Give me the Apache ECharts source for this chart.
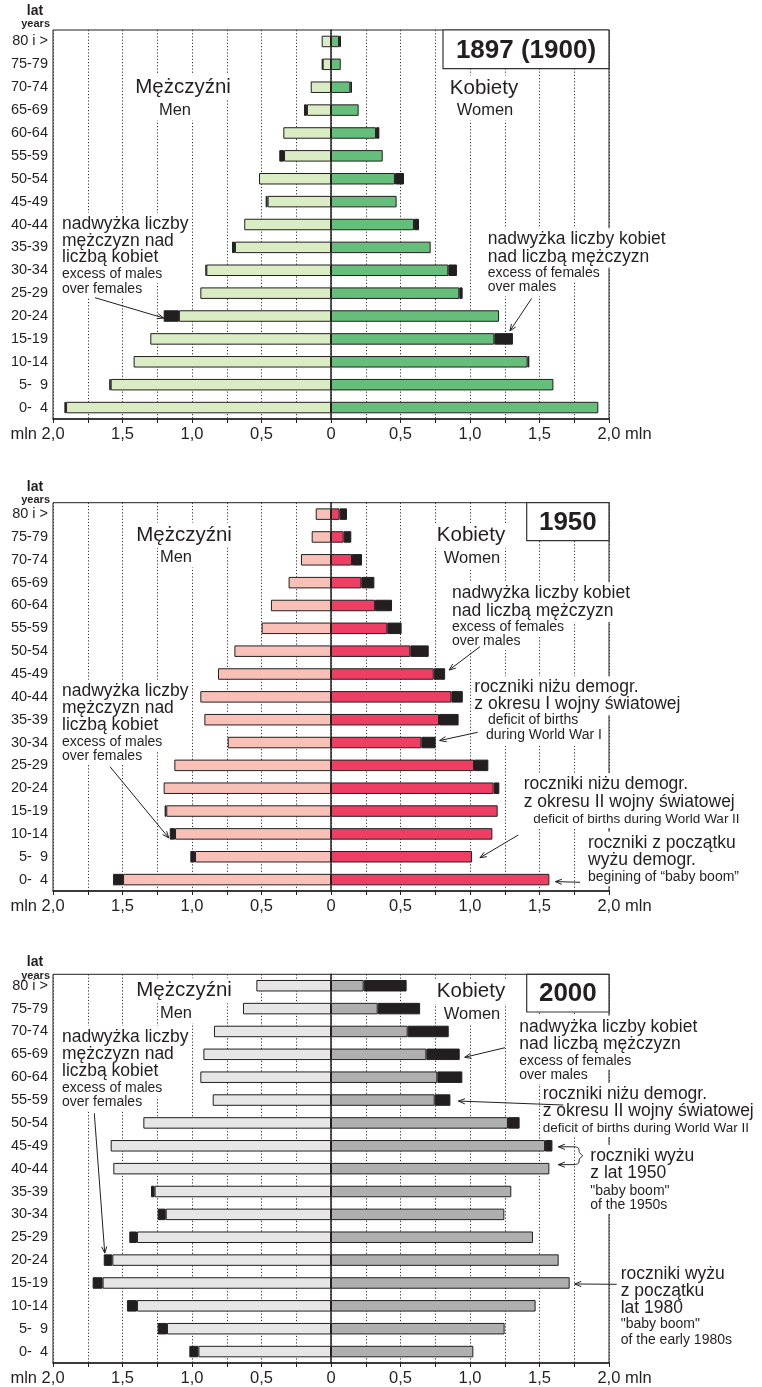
<!DOCTYPE html>
<html><head><meta charset="utf-8">
<script src="https://cdn.jsdelivr.net/npm/echarts@6/dist/echarts.min.js"></script>
<style>html,body{margin:0;padding:0;background:#fff}#c{width:762px;height:1387px}</style>
</head><body><div id="c"></div><script>
// ---------------- DATA (age groups listed from youngest (bottom) to oldest (top)) ----------------
const ageGroups = ['0-  4','5-  9','10-14','15-19','20-24','25-29','30-34','35-39','40-44','45-49','50-54','55-59','60-64','65-69','70-74','75-79','80 i >'];
const tickValues = [-2,-1.5,-1,-0.5,0,0.5,1,1.5,2];
const tickLabels = ['mln 2,0','1,5','1,0','0,5','0','0,5','1,0','1,5','2,0 mln'];
const years = ['1897 (1900)','1950','2000'];

// 1897 (1900)  [mln]
const men1897        = [1.906,1.585,1.420,1.300,1.094,0.940,0.897,0.691,0.624,0.456,0.518,0.338,0.343,0.173,0.146,0.060,0.067];
const menExcess1897  = [0.012,0.010,0,0,0.110,0,0.005,0.021,0,0.014,0,0.034,0,0.021,0,0.005,0];
const women1897      = [1.923,1.600,1.415,1.175,1.209,0.923,0.844,0.717,0.597,0.472,0.460,0.372,0.324,0.199,0.139,0.070,0.058];
const womenExcess1897= [0,0,0.012,0.134,0,0.024,0.062,0,0.036,0,0.065,0,0.024,0,0.012,0,0.014];

// 1950
const men1950        = [1.496,0.978,1.122,1.185,1.204,1.127,0.743,0.911,0.940,0.813,0.695,0.499,0.432,0.305,0.216,0.139,0.110];
const menExcess1950  = [0.072,0.034,0.038,0.012,0,0,0,0,0,0,0,0,0,0,0,0,0];
const women1950      = [1.571,1.014,1.161,1.199,1.170,1.029,0.650,0.777,0.866,0.739,0.571,0.405,0.317,0.218,0.151,0.091,0.062];
const womenExcess1950= [0,0,0,0,0.041,0.103,0.103,0.141,0.082,0.082,0.132,0.103,0.122,0.094,0.072,0.055,0.053];

// 2000
const men2000        = [0.954,1.180,1.396,1.643,1.573,1.396,1.189,1.269,1.566,1.585,1.350,0.851,0.940,0.918,0.842,0.633,0.537];
const menExcess2000  = [0.065,0.067,0.072,0.072,0.062,0.055,0.058,0.026,0,0,0,0,0,0,0,0,0];
const women2000      = [1.024,1.249,1.472,1.717,1.638,1.453,1.247,1.297,1.571,1.540,1.273,0.746,0.765,0.686,0.552,0.336,0.235];
const womenExcess2000= [0,0,0,0,0,0,0,0,0,0.053,0.084,0.113,0.180,0.240,0.295,0.305,0.309];

// ---------------- STYLE ----------------
const INK = '#231f20';
const FONT = '"Liberation Sans", Arial, Helvetica, sans-serif';
const panels = [
  {men: men1897, mx: menExcess1897, women: women1897, fx: womenExcess1897, cM:'#d9ecc4', cF:'#66be7b', top:30,    height:389},
  {men: men1950, mx: menExcess1950, women: women1950, fx: womenExcess1950, cM:'#f9c0b8', cF:'#ee3e64', top:502.7, height:388.3},
  {men: men2000, mx: menExcess2000, women: women2000, fx: womenExcess2000, cM:'#e6e6e6', cF:'#afafaf', top:974.3, height:389}
];

const grids = [], xAxes = [], yAxes = [], series = [];
panels.forEach((p, i) => {
  grids.push({left:53, width:556, top:p.top, height:p.height, show:true, borderColor:INK, borderWidth:1, backgroundColor:'transparent'});
  xAxes.push({
    gridIndex:i, type:'value', min:-2, max:2, interval:0.25,
    axisLine:{show:true, onZero:false, lineStyle:{color:INK, width:1.6}},
    axisTick:{show:true, length:4, lineStyle:{color:INK, width:1}},
    splitLine:{show:true, lineStyle:{color:'#333', width:1, type:[1.2,2]}},
    axisLabel:{
      showMinLabel:true, showMaxLabel:true, hideOverlap:false, margin:7,
      formatter: v => {
        const k = tickValues.findIndex(t => Math.abs(t - v) < 1e-6);
        if (k < 0) return '';
        if (k === 0) return '{a|' + tickLabels[k] + '}{s| }';
        if (k === tickValues.length - 1) return '{s| }{a|' + tickLabels[k] + '}';
        return '{a|' + tickLabels[k] + '}';
      },
      rich:{a:{fontSize:16.5, color:INK, fontFamily:FONT}, s:{width:31, fontSize:16}}
    }
  });
  yAxes.push({
    gridIndex:i, type:'category', data:ageGroups, boundaryGap:true,
    axisLine:{show:true, lineStyle:{color:INK, width:1.5}},
    axisTick:{show:false}, splitLine:{show:false},
    axisLabel:{fontSize:14.5, color:INK, fontFamily:FONT, margin:5}
  });
  const base = {type:'bar', xAxisIndex:i, yAxisIndex:i, stack:'pyr'+i, barWidth:11.5, animation:false, silent:true};
  const bs = {borderColor:INK, borderWidth:1};
  const nz = v => v > 0 ? v : '-';
  series.push({...base, name:'men'+i, data:p.men.map(v => -v), itemStyle:{...bs, color:p.cM}});
  series.push({...base, name:'menEx'+i, data:p.mx.map(v => v > 0 ? -v : '-'), itemStyle:{...bs, color:INK}});
  series.push({...base, name:'women'+i, data:p.women.map(nz), itemStyle:{...bs, color:p.cF}});
  series.push({...base, name:'womenEx'+i, data:p.fx.map(nz), itemStyle:{...bs, color:INK}});
});

const chart = echarts.init(document.getElementById('c'), null, {renderer:'canvas'});
chart.setOption({
  backgroundColor:'#fff', animation:false,
  grid:grids, xAxis:xAxes, yAxis:yAxes, series:series
});

// ---------------- ANNOTATIONS ----------------
const G = [];
function txt(x, y, t, size, opt) {
  opt = opt || {};
  const st = {
    text:t, x:x, y:y, fill:INK, align:opt.align || 'left', verticalAlign:'middle',
    fontSize:size, fontFamily:FONT, fontWeight:opt.bold ? 'bold' : 'normal', padding:[2,2]
  };
  if (!opt.nobg) {
    // white backing layer (hides grid lines), drawn under all texts
    G.push({type:'text', z:59, style:Object.assign({}, st, {fill:'#fff', backgroundColor:'#fff'})});
  }
  G.push({type:'text', z:62, style:st});
}
function block(x, lines) { lines.forEach(l => txt(l[2] !== undefined ? l[2] : x, l[0], l[1], l[3] || 17.5)); }
function tip(panel, val, cat, dx, dy) {
  const pt = chart.convertToPixel({xAxisIndex:panel, yAxisIndex:panel}, [val, cat]);
  return [pt[0] + dx, pt[1] + dy];
}
function arrow(x1, y1, t) {
  const x2 = t[0], y2 = t[1];
  const ang = Math.atan2(y2 - y1, x2 - x1), L = 7, a = 0.38;
  G.push({type:'line', z:61, shape:{x1:x1, y1:y1, x2:x2, y2:y2}, style:{stroke:INK, lineWidth:1}});
  G.push({type:'polyline', z:61, shape:{points:[
    [x2 - L*Math.cos(ang - a), y2 - L*Math.sin(ang - a)], [x2, y2],
    [x2 - L*Math.cos(ang + a), y2 - L*Math.sin(ang + a)]]}, style:{stroke:INK, lineWidth:1, fill:null}});
}
function titleBox(x, y, w, h, t) {
  G.push({type:'rect', z:58, shape:{x:x, y:y, width:w, height:h}, style:{fill:'#fff', stroke:'#333', lineWidth:1.2}});
  G.push({type:'text', z:63, style:{text:t, x:x + w/2, y:y + h/2 + 1, align:'center', verticalAlign:'middle', fontSize:26, fontWeight:'bold', fontFamily:FONT, fill:INK}});
}
const tot = (a, b, k) => a[k] + b[k];

// header labels, sex labels
[[11,24],[486.7,500],[961.7,976]].forEach(h => {
  txt(35, h[0], 'lat', 14, {align:'center', bold:true, nobg:true});
  txt(52, h[1], 'years', 11, {align:'right', bold:true, nobg:true});
});
[[87,110,88,110,183,484],[535,557,535.7,558,184,471],[990.7,1013,991.7,1014,184,471]].forEach(s => {
  txt(s[4], s[0], 'Mężczyźni', 20.5, {align:'center'});
  txt(s[4] - 8, s[1], 'Men', 16.5, {align:'center'});
  txt(s[5], s[2], 'Kobiety', 20.5, {align:'center'});
  txt(s[5] + 1, s[3], 'Women', 16.5, {align:'center'});
});
titleBox(443, 30, 166, 38.7, years[0]);
titleBox(526.7, 502.7, 82.3, 38, years[1]);
titleBox(526.7, 974.3, 82.3, 37.7, years[2]);

// panel 1
block(60, [[224,'nadwyżka liczby'],[240.7,'mężczyzn nad'],[257.3,'liczbą kobiet'],[274.3,'excess of males',undefined,14],[288.7,'over females',undefined,14]]);
block(485.7, [[239.3,'nadwyżka liczby kobiet'],[256.7,'nad liczbą mężczyzn'],[273.3,'excess of females',undefined,14],[287.3,'over males',undefined,14]]);
// panel 2
block(60, [[690.7,'nadwyżka liczby'],[708,'mężczyzn nad'],[725.3,'liczbą kobiet'],[742,'excess of males',undefined,14],[756,'over females',undefined,14]]);
block(450, [[593.3,'nadwyżka liczby kobiet'],[611,'nad liczbą mężczyzn'],[626.7,'excess of females',undefined,14],[641.3,'over males',undefined,14]]);
block(472.3, [[687.3,'roczniki niżu demogr.'],[704.3,'z okresu I wojny światowej'],[720,'deficit of births',486,14],[735,'during World War I',484,14]]);
block(521.7, [[784,'roczniki niżu demogr.'],[801.7,'z okresu II wojny światowej'],[819,'deficit of births during World War II',531.3,13.5]]);
block(586, [[842.7,'roczniki z początku'],[860,'wyżu demogr.'],[877.3,'begining of “baby boom”',undefined,14]]);
// panel 3
block(60, [[1036.7,'nadwyżka liczby'],[1054,'mężczyzn nad'],[1071,'liczbą kobiet'],[1087.7,'excess of males',undefined,14],[1101.7,'over females',undefined,14]]);
block(517.3, [[1026.7,'nadwyżka liczby kobiet'],[1044.3,'nad liczbą mężczyzn'],[1060.7,'excess of females',undefined,14],[1075,'over males',undefined,14]]);
block(540.7, [[1094,'roczniki niżu demogr.'],[1110.7,'z okresu II wojny światowej'],[1128,'deficit of births during World War II',undefined,13.5]]);
block(588.3, [[1155.7,'roczniki wyżu'],[1173.3,'z lat 1950'],[1191,'"baby boom"',undefined,14],[1205,'of the 1950s',undefined,14]]);
block(618.7, [[1274,'roczniki wyżu'],[1291,'z początku'],[1307.7,'lat 1980'],[1324.3,'"baby boom"',undefined,14],[1340.3,'of the early 1980s',undefined,14]]);

// arrows (tips located on bar ends through the axes)
arrow(95, 297.7, tip(0, -tot(men1897, menExcess1897, 4), 4, 0, 2));
arrow(531.7, 298.3, tip(0, tot(women1897, womenExcess1897, 3), 3, -3, -8));
arrow(110, 766.7, tip(1, -tot(men1950, menExcess1950, 2), 2, -1, 4));
arrow(480, 646.7, tip(1, tot(women1950, womenExcess1950, 9), 9, 4, -4));
arrow(477.7, 732.3, tip(1, tot(women1950, womenExcess1950, 6), 6, 4, -2));
arrow(518.3, 835, tip(1, tot(women1950, womenExcess1950, 1), 1, 8, 1));
arrow(580, 882.3, tip(1, tot(women1950, womenExcess1950, 0), 0, 6, 2));
arrow(94.3, 1113.3, tip(2, -tot(men2000, menExcess2000, 4), 4, 1, -7));
arrow(505, 1047.7, tip(2, tot(women2000, womenExcess2000, 13), 13, 5, 3));
arrow(563.3, 1105, tip(2, tot(women2000, womenExcess2000, 11), 11, 8, 1));
const tA = tip(2, tot(women2000, womenExcess2000, 9), 9, 6, 1);
const tB = tip(2, tot(women2000, womenExcess2000, 8), 8, 9, -4);
arrow(575, tA[1], tA);
arrow(575, tB[1], tB);
const ym = (tA[1] + tB[1]) / 2;
G.push({type:'polyline', z:61, shape:{smooth:0.35, points:[
  [575, tA[1]], [578.5, tA[1] + 1.5], [579.5, ym - 3], [582.5, ym], [579.5, ym + 3], [578.5, tB[1] - 1.5], [575, tB[1]]]},
  style:{stroke:INK, lineWidth:1, fill:null}});
arrow(616.7, 1284.3, tip(2, tot(women2000, womenExcess2000, 3), 3, 5, 1));

chart.setOption({graphic:G});
</script></body></html>
